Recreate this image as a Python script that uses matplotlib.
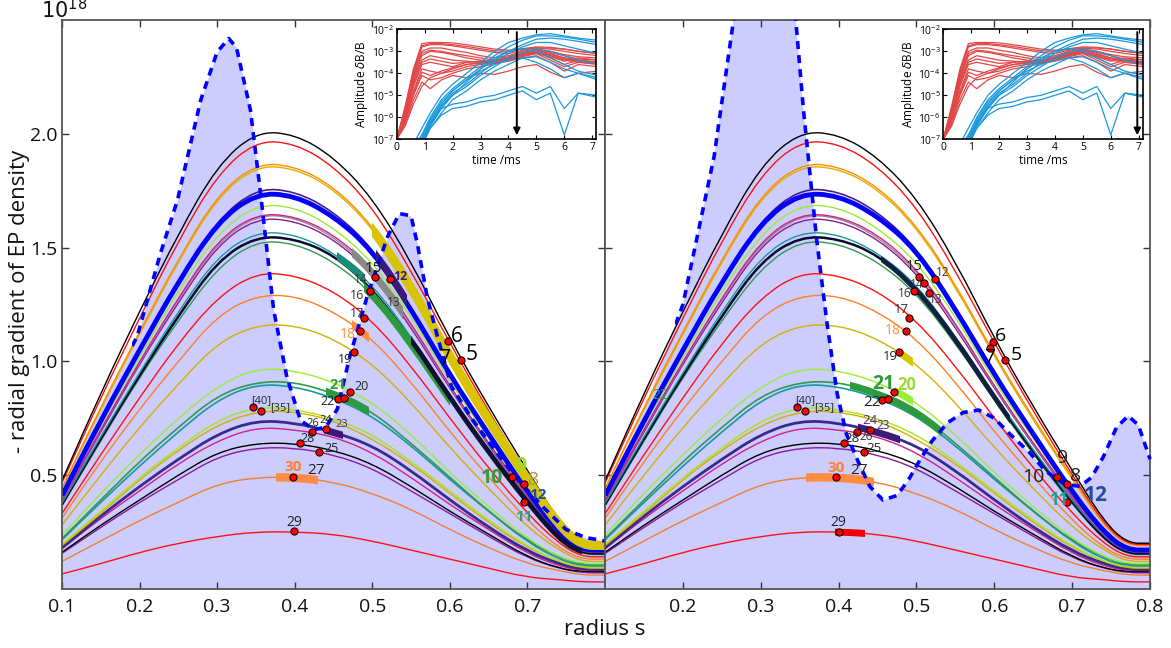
import numpy as np
import matplotlib
matplotlib.use('Agg')
import matplotlib.pyplot as plt
from matplotlib.patches import Rectangle, PathPatch
from matplotlib.path import Path

plt.rcParams['font.family'] = ['Open Sans', 'DejaVu Sans']

# ---------------- data (units of 1e18) ----------------
radius = [0.10, 0.15, 0.20, 0.25, 0.30, 0.35, 0.40, 0.45, 0.50, 0.55, 0.60, 0.65, 0.70, 0.74, 0.77, 0.80]

black_a   = [0.475, 0.86, 1.22, 1.56, 1.86, 2.01, 2.00, 1.90, 1.72, 1.44, 1.10, 0.80, 0.52, 0.30, 0.20, 0.20]
red_a     = [0.465, 0.84, 1.19, 1.53, 1.82, 1.97, 1.96, 1.86, 1.68, 1.40, 1.08, 0.78, 0.50, 0.29, 0.195, 0.195]
orange_a  = [0.44, 0.80, 1.13, 1.45, 1.73, 1.87, 1.86, 1.77, 1.60, 1.34, 1.03, 0.75, 0.49, 0.28, 0.19, 0.19]
gold_a    = [0.44, 0.79, 1.12, 1.44, 1.72, 1.86, 1.85, 1.76, 1.59, 1.33, 1.02, 0.74, 0.48, 0.28, 0.19, 0.19]
indigo_a  = [0.415, 0.75, 1.06, 1.36, 1.62, 1.76, 1.75, 1.66, 1.50, 1.24, 0.95, 0.68, 0.43, 0.25, 0.175, 0.175]
blue_a    = [0.41, 0.74, 1.05, 1.35, 1.61, 1.74, 1.73, 1.64, 1.49, 1.23, 0.94, 0.68, 0.425, 0.25, 0.17, 0.17]
lgreen_a  = [0.40, 0.72, 1.02, 1.31, 1.56, 1.69, 1.68, 1.59, 1.44, 1.20, 0.91, 0.66, 0.415, 0.24, 0.17, 0.17]
magenta_a = [0.39, 0.70, 1.00, 1.28, 1.53, 1.65, 1.64, 1.56, 1.41, 1.17, 0.89, 0.64, 0.405, 0.24, 0.165, 0.165]
gray_a    = [0.388, 0.70, 0.995, 1.275, 1.52, 1.645, 1.635, 1.55, 1.40, 1.165, 0.885, 0.635, 0.40, 0.235, 0.163, 0.163]
purple_a  = [0.385, 0.69, 0.99, 1.26, 1.51, 1.63, 1.62, 1.54, 1.39, 1.15, 0.88, 0.63, 0.395, 0.23, 0.16, 0.16]
teal_a    = [0.375, 0.67, 0.95, 1.22, 1.46, 1.57, 1.56, 1.48, 1.34, 1.11, 0.85, 0.61, 0.385, 0.23, 0.16, 0.16]
black_b   = [0.37, 0.66, 0.94, 1.20, 1.44, 1.55, 1.54, 1.47, 1.32, 1.10, 0.84, 0.60, 0.38, 0.22, 0.155, 0.155]
green_a   = [0.365, 0.65, 0.93, 1.18, 1.41, 1.53, 1.52, 1.44, 1.30, 1.08, 0.83, 0.59, 0.37, 0.22, 0.15, 0.15]
red_b     = [0.33, 0.59, 0.84, 1.08, 1.28, 1.39, 1.38, 1.31, 1.18, 0.98, 0.75, 0.53, 0.33, 0.20, 0.14, 0.14]
orange_b  = [0.31, 0.56, 0.79, 1.00, 1.20, 1.29, 1.29, 1.22, 1.10, 0.91, 0.69, 0.49, 0.30, 0.18, 0.13, 0.13]
gold_b    = [0.28, 0.50, 0.71, 0.90, 1.08, 1.16, 1.16, 1.10, 0.99, 0.82, 0.62, 0.44, 0.27, 0.17, 0.12, 0.12]
lgreen_b  = [0.235, 0.42, 0.59, 0.75, 0.89, 0.97, 0.96, 0.91, 0.82, 0.68, 0.51, 0.36, 0.22, 0.14, 0.11, 0.11]
green_b   = [0.22, 0.39, 0.56, 0.71, 0.85, 0.91, 0.91, 0.86, 0.78, 0.64, 0.49, 0.34, 0.21, 0.14, 0.105, 0.105]
teal_b    = [0.215, 0.38, 0.54, 0.69, 0.83, 0.90, 0.89, 0.84, 0.76, 0.63, 0.48, 0.34, 0.205, 0.13, 0.10, 0.10]
ygreen_a  = [0.195, 0.34, 0.49, 0.62, 0.74, 0.80, 0.79, 0.75, 0.68, 0.56, 0.43, 0.30, 0.185, 0.12, 0.095, 0.095]
gold_c    = [0.19, 0.33, 0.48, 0.61, 0.72, 0.78, 0.78, 0.74, 0.66, 0.55, 0.42, 0.29, 0.18, 0.12, 0.09, 0.09]
indigo_b  = [0.18, 0.32, 0.45, 0.57, 0.68, 0.74, 0.73, 0.69, 0.63, 0.52, 0.39, 0.27, 0.165, 0.11, 0.085, 0.085]
magenta_b = [0.175, 0.31, 0.43, 0.55, 0.65, 0.71, 0.70, 0.67, 0.60, 0.49, 0.37, 0.26, 0.155, 0.10, 0.08, 0.08]
black_c   = [0.16, 0.28, 0.39, 0.50, 0.60, 0.64, 0.64, 0.61, 0.55, 0.45, 0.34, 0.24, 0.14, 0.09, 0.075, 0.075]
purple_b  = [0.155, 0.27, 0.38, 0.48, 0.58, 0.62, 0.62, 0.59, 0.53, 0.43, 0.33, 0.23, 0.135, 0.09, 0.07, 0.07]
orange_c  = [0.12, 0.21, 0.30, 0.38, 0.46, 0.49, 0.49, 0.47, 0.42, 0.35, 0.26, 0.18, 0.11, 0.08, 0.06, 0.06]
red_c     = [0.065, 0.11, 0.16, 0.20, 0.23, 0.25, 0.25, 0.24, 0.21, 0.17, 0.13, 0.09, 0.05, 0.04, 0.03, 0.03]

# EP density gradient (dashed) at the two times
ep_left_s = [0.10, 0.15, 0.197, 0.227, 0.249, 0.279, 0.30, 0.315, 0.325, 0.343, 0.356, 0.373, 0.39, 0.4075,
             0.425, 0.44, 0.455, 0.471, 0.493, 0.52, 0.535, 0.55, 0.558, 0.571, 0.584, 0.602, 0.63, 0.66,
             0.69, 0.72, 0.75, 0.775, 0.80]
ep_left_v = [0.46, 0.80, 1.11, 1.475, 1.71, 2.15, 2.36, 2.42, 2.38, 2.105, 1.74, 1.225, 0.93, 0.74,
             0.70, 0.71, 0.79, 1.02, 1.28, 1.55, 1.65, 1.64, 1.52, 1.28, 1.11, 0.89, 0.74, 0.60,
             0.47, 0.36, 0.26, 0.225, 0.21]
ep_right_s = [0.10, 0.15, 0.20, 0.24, 0.265, 0.29, 0.32, 0.34, 0.355, 0.372, 0.385, 0.398, 0.41, 0.425,
              0.44, 0.457, 0.475, 0.49, 0.505, 0.52, 0.54, 0.56, 0.58, 0.60, 0.62, 0.645, 0.665, 0.69,
              0.71, 0.725, 0.74, 0.757, 0.772, 0.785, 0.80]
ep_right_v = [0.42, 0.78, 1.25, 1.90, 2.50, 2.90, 3.00, 2.70, 2.10, 1.53, 1.17, 0.86, 0.68, 0.56,
              0.45, 0.39, 0.41, 0.48, 0.57, 0.65, 0.73, 0.775, 0.786, 0.75, 0.68, 0.60, 0.52, 0.46,
              0.45, 0.49, 0.58, 0.71, 0.76, 0.72, 0.57]

# inset time traces (log10 of amplitude)
time_ms = [0, 0.3, 0.6, 0.9, 1.2, 1.6, 2.0, 2.5, 3.0, 3.5, 4.0, 4.5, 5.0, 5.5, 6.0, 6.5, 7.2]
red_modes = [
    [-7, -5.5, -3.8, -2.65, -2.6, -2.6, -2.62, -2.7, -2.8, -2.9, -2.95, -2.9, -2.85, -2.85, -2.9, -3.0, -3.1],
    [-7, -5.65, -3.9, -2.75, -2.65, -2.65, -2.7, -2.78, -2.88, -2.98, -3.0, -2.88, -2.8, -2.82, -2.9, -3.0, -3.1],
    [-7, -5.6, -4.0, -2.8, -2.7, -2.7, -2.75, -2.85, -2.95, -3.05, -3.1, -2.95, -2.85, -2.9, -3.0, -3.1, -3.2],
    [-7, -5.7, -4.1, -3.0, -2.85, -2.85, -2.95, -3.05, -3.2, -3.3, -3.2, -3.0, -2.9, -3.0, -3.15, -3.25, -3.3],
    [-7, -5.75, -4.2, -3.1, -2.95, -3.0, -3.1, -3.2, -3.3, -3.4, -3.25, -3.05, -2.92, -3.05, -3.2, -3.35, -3.4],
    [-7, -5.8, -4.3, -3.2, -3.0, -3.05, -3.15, -3.3, -3.4, -3.5, -3.3, -3.1, -2.95, -3.1, -3.3, -3.4, -3.5],
    [-7, -5.9, -4.4, -3.4, -3.2, -3.3, -3.4, -3.45, -3.5, -3.55, -3.35, -3.2, -3.0, -3.2, -3.4, -3.5, -3.6],
    [-7, -5.95, -4.5, -3.5, -3.35, -3.45, -3.55, -3.5, -3.45, -3.45, -3.3, -3.1, -3.0, -3.15, -3.3, -3.4, -3.5],
    [-7, -6.0, -4.6, -3.6, -3.5, -3.6, -3.7, -3.5, -3.45, -3.4, -3.3, -3.15, -3.1, -3.25, -3.45, -3.3, -3.4],
    [-7, -6.1, -4.8, -3.8, -3.9, -4.0, -3.9, -3.7, -3.6, -3.5, -3.4, -3.2, -3.05, -3.3, -3.6, -3.4, -3.5],
    [-7, -6.15, -4.9, -3.95, -4.1, -3.9, -3.75, -3.6, -3.55, -3.45, -3.35, -3.25, -3.1, -3.4, -3.7, -3.5, -3.55],
    [-7, -6.2, -5.0, -4.1, -4.3, -4.2, -4.0, -3.8, -3.7, -3.55, -3.45, -3.3, -3.2, -3.5, -3.9, -3.6, -3.7],
    [-7, -6.3, -5.2, -4.4, -4.7, -4.3, -4.1, -4.2, -4.0, -4.05, -3.9, -3.7, -3.6, -3.95, -4.2, -4.0, -3.9],
    [-7, -6.4, -5.4, -4.6, -4.2, -4.0, -3.8, -3.6, -3.5, -3.5, -3.3, -3.15, -3.0, -3.2, -3.35, -3.45, -3.55],
]
blue_modes = [
    [-7.5, -7.5, -7.2, -6.5, -5.8, -5.0, -4.5, -4.0, -3.5, -3.0, -2.6, -2.4, -2.25, -2.2, -2.3, -2.4, -2.5],
    [-7.5, -7.5, -7.3, -6.8, -6.0, -5.2, -4.7, -4.2, -3.7, -3.2, -2.8, -2.5, -2.3, -2.3, -2.35, -2.45, -2.6],
    [-7.5, -7.5, -7.4, -6.9, -6.1, -5.3, -4.8, -4.3, -3.8, -3.4, -3.0, -2.7, -2.45, -2.4, -2.45, -2.55, -2.7],
    [-7.5, -7.5, -7.4, -7.0, -6.3, -5.5, -4.9, -4.5, -4.0, -3.5, -3.1, -2.8, -2.6, -2.6, -2.75, -2.9, -3.1],
    [-7.5, -7.5, -7.5, -7.1, -6.4, -5.6, -5.0, -4.4, -3.8, -3.3, -3.0, -2.9, -3.0, -3.3, -3.6, -3.9, -4.1],
    [-7.5, -7.5, -7.5, -7.1, -6.3, -5.5, -5.0, -4.6, -4.1, -3.7, -3.3, -3.05, -2.9, -3.0, -3.2, -3.4, -3.6],
    [-7.5, -7.5, -7.5, -7.2, -6.5, -5.8, -5.2, -4.8, -4.3, -3.9, -3.6, -3.3, -3.25, -3.5, -3.8, -4.0, -4.2],
    [-7.5, -7.5, -7.5, -7.0, -6.2, -5.4, -4.8, -4.3, -3.9, -3.6, -3.4, -3.3, -3.5, -3.8, -4.2, -4.0, -4.3],
    [-7.5, -7.5, -7.5, -7.2, -6.3, -5.6, -5.4, -5.3, -5.1, -5.0, -4.8, -4.6, -4.9, -4.6, -5.6, -4.9, -5.0],
    [-7.5, -7.5, -7.5, -7.3, -6.5, -5.9, -5.6, -5.5, -5.3, -5.2, -5.0, -4.8, -5.2, -4.9, -6.8, -4.9, -5.1],
]
arrow_time = [4.3, 6.95]

x_ticks_left = [0.1, 0.2, 0.3, 0.4, 0.5, 0.6, 0.7]
x_ticks_right = [0.2, 0.3, 0.4, 0.5, 0.6, 0.7, 0.8]
y_ticks = [0.5, 1.0, 1.5, 2.0]

# ---------------- styles ----------------
curves = [
    (red_c, '#ff1010', 1.0), (orange_c, '#f08030', 1.0), (purple_b, '#8a1a9a', 1.0), (black_c, '#000000', 1.0),
    (magenta_b, '#d0208a', 1.0), (indigo_b, '#3a2a90', 2.0), (gold_c, '#d4b000', 1.0), (ygreen_a, '#a6e61a', 1.0),
    (teal_b, '#169a9a', 1.2), (green_b, '#2e9a4e', 1.2), (lgreen_b, '#99ee33', 1.0), (gold_b, '#d4b000', 1.0),
    (orange_b, '#ff7f24', 1.0), (red_b, '#ff1010', 1.0), (green_a, '#2e9a4e', 1.0), (black_b, '#0a0a30', 1.8),
    (teal_a, '#169a9a', 1.0), (purple_a, '#8a1a9a', 1.0), (gray_a, '#909090', 1.0), (magenta_a, '#d0208a', 1.0),
    (lgreen_a, '#99ee33', 1.0), (indigo_a, '#4b1a8a', 1.2), (blue_a, '#0000ff', 3.5), (gold_a, '#e0b000', 1.0),
    (orange_a, '#ff8c00', 1.0), (red_a, '#ff1010', 1.0), (black_a, '#000000', 1.0),
]

hl_left = [
    (gold_a, 0.50, 0.80, '#d8c400', 6.5), (indigo_a, 0.505, 0.545, '#3d1a78', 5), (gray_a, 0.474, 0.54, '#888888', 5),
    (teal_a, 0.455, 0.49, '#1a8a7a', 5), (green_a, 0.49, 0.60, '#2e9a3e', 5), (black_b, 0.55, 0.77, '#101030', 3.5),
    (orange_b, 0.474, 0.496, '#ff8c40', 5), (green_b, 0.44, 0.496, '#2e9a3e', 5), (indigo_b, 0.438, 0.462, '#3d1a78', 5),
    (orange_c, 0.376, 0.43, '#ff8c40', 6),
]
hl_right = [
    (gold_b, 0.476, 0.495, '#d8c400', 5), (lgreen_b, 0.472, 0.496, '#99ee33', 5), (green_b, 0.415, 0.533, '#2e9a3e', 5),
    (indigo_b, 0.425, 0.479, '#3d1a78', 5), (orange_c, 0.3585, 0.446, '#ff8c40', 6), (red_c, 0.395, 0.434, '#ee0000', 5),
    (black_b, 0.455, 0.62, '#102040', 3.5),
]

dots_left_s = [0.503, 0.523, 0.497, 0.490, 0.484, 0.476, 0.598, 0.614, 0.471, 0.456, 0.464, 0.44, 0.423, 0.4075,
               0.432, 0.398, 0.399, 0.346, 0.357, 0.68, 0.696, 0.696]
dots_left_v = [1.37, 1.36, 1.31, 1.19, 1.133, 1.04, 1.09, 1.006, 0.867, 0.833, 0.837, 0.702, 0.69, 0.639,
               0.60, 0.493, 0.253, 0.80, 0.783, 0.49, 0.46, 0.38]
dots_right_s = [0.503, 0.51, 0.524, 0.516, 0.497, 0.49, 0.486, 0.477, 0.471, 0.456, 0.464, 0.44, 0.423, 0.4075,
                0.432, 0.346, 0.357, 0.598, 0.594, 0.614, 0.3965, 0.40, 0.68, 0.693, 0.693]
dots_right_v = [1.37, 1.346, 1.36, 1.30, 1.31, 1.19, 1.134, 1.04, 0.867, 0.83, 0.835, 0.70, 0.69, 0.64,
                0.60, 0.80, 0.783, 1.087, 1.06, 1.006, 0.493, 0.25, 0.493, 0.46, 0.383]

lab_left = [
    ("15", 0.501, 1.41, '#111111', 11, 'normal'), ("14", 0.485, 1.36, '#333333', 8.5, 'normal'),
    ("12", 0.537, 1.375, '#3d1a78', 9, 'bold'), ("16", 0.480, 1.29, '#333333', 9, 'normal'),
    ("13", 0.527, 1.258, '#333333', 8.5, 'normal'), ("17", 0.481, 1.21, '#333333', 9, 'normal'),
    ("18", 0.468, 1.12, '#ff8c40', 10, 'normal'), ("19", 0.465, 1.01, '#222222', 9, 'normal'),
    ("6", 0.609, 1.11, '#000000', 15, 'normal'), ("5", 0.628, 1.03, '#000000', 15, 'normal'),
    ("7", 0.594, 1.01, '#000000', 15, 'normal'), ("20", 0.486, 0.89, '#222222', 9, 'normal'),
    ("21", 0.455, 0.896, '#2e9a3e', 10.5, 'bold'), ("22", 0.443, 0.825, '#222222', 9, 'normal'),
    ("24", 0.44, 0.738, '#222222', 8, 'normal'), ("26", 0.424, 0.725, '#222222', 8, 'normal'),
    ("23", 0.461, 0.722, '#4b2a80', 8, 'normal'), ("28", 0.416, 0.66, '#222222', 9, 'normal'),
    ("25", 0.447, 0.617, '#222222', 9, 'normal'), ("27", 0.427, 0.52, '#222222', 11, 'normal'),
    ("30", 0.398, 0.537, '#ff8030', 11, 'bold'), ("29", 0.40, 0.292, '#222222', 10, 'normal'),
    ("[40]", 0.357, 0.828, '#222222', 8, 'normal'), ("[35]", 0.381, 0.797, '#222222', 8, 'normal'),
    ("10", 0.654, 0.485, '#3a9a3a', 14, 'bold'), ("9", 0.692, 0.54, '#99dd33', 14, 'bold'),
    ("8", 0.708, 0.48, '#a89a40', 14, 'normal'), ("12", 0.714, 0.41, '#1f4e9a', 11, 'bold'),
    ("11", 0.695, 0.316, '#2a9d8f', 11, 'bold'),
]
lab_right = [
    ("15", 0.497, 1.415, '#222222', 10.5, 'normal'), ("14", 0.50, 1.34, '#333333', 8.5, 'normal'),
    ("12", 0.534, 1.39, '#333333', 8.5, 'normal'), ("13", 0.525, 1.27, '#333333', 8.5, 'normal'),
    ("16", 0.485, 1.30, '#333333', 8.5, 'normal'), ("17", 0.481, 1.23, '#333333', 9.5, 'normal'),
    ("18", 0.469, 1.134, '#ff9040', 10, 'normal'), ("19", 0.466, 1.02, '#222222', 9.5, 'normal'),
    ("6", 0.608, 1.11, '#000000', 14, 'normal'), ("7", 0.594, 1.02, '#000000', 14, 'normal'),
    ("5", 0.628, 1.03, '#000000', 14, 'normal'), ("21", 0.457, 0.902, '#2e9a3e', 14, 'bold'),
    ("20", 0.487, 0.895, '#99dd33', 12, 'bold'), ("22", 0.443, 0.82, '#222222', 11, 'normal'),
    ("24", 0.44, 0.74, '#4b2a80', 9.5, 'normal'), ("26", 0.436, 0.67, '#333333', 8.5, 'normal'),
    ("23", 0.457, 0.72, '#4b2a80', 8.5, 'normal'), ("28", 0.417, 0.66, '#222222', 9.5, 'normal'),
    ("25", 0.446, 0.617, '#222222', 9.5, 'normal'), ("[40]", 0.357, 0.828, '#222222', 8, 'normal'),
    ("[35]", 0.381, 0.797, '#222222', 8, 'normal'), ("30", 0.397, 0.53, '#ff8030', 11, 'bold'),
    ("27", 0.4265, 0.52, '#222222', 11, 'normal'), ("29", 0.40, 0.29, '#222222', 10, 'normal'),
    ("10", 0.65, 0.49, '#222222', 14, 'normal'), ("9", 0.687, 0.575, '#222222', 14, 'normal'),
    ("8", 0.704, 0.495, '#222222', 14, 'normal'), ("12", 0.73, 0.41, '#1f4e9a', 15, 'bold'),
    ("11", 0.683, 0.39, '#2a9d8f', 12, 'bold'), ("22", 0.171, 0.85, '#3a9a3a', 10, 'normal'),
]

# ---------------- figure ----------------
fig = plt.figure(figsize=(11.71, 6.48), dpi=100)
axL = fig.add_axes([0.0529, 0.0915, 0.4637, 0.8772])
axR = fig.add_axes([0.5167, 0.0915, 0.4654, 0.8772])


def smooth_curve(ax, xs, ys, color, lw, z):
    """Quadratic-Bezier rendering through the sampled profile (drawn in data coordinates)."""
    xs = np.asarray(xs, float)
    ys = np.asarray(ys, float)
    mids = np.column_stack([(xs[:-1] + xs[1:]) / 2, (ys[:-1] + ys[1:]) / 2])
    verts = [(xs[0], ys[0]), tuple(mids[0])]
    codes = [Path.MOVETO, Path.LINETO]
    for i in range(1, len(xs) - 1):
        verts += [(xs[i], ys[i]), tuple(mids[i])]
        codes += [Path.CURVE3, Path.CURVE3]
    verts.append((xs[-1], ys[-1]))
    codes.append(Path.LINETO)
    patch = PathPatch(Path(verts, codes), fill=False, edgecolor=color, lw=lw, capstyle='butt',
                      joinstyle='round', zorder=z)
    ax.add_patch(patch)
    return patch


def draw_panel(ax, ep_s, ep_v, highlights, ds, dv, labels, xt, dash_from):
    ax.fill_between(ep_s, 0, ep_v, color='#ccccff', lw=0, zorder=1)
    for vals, col, lw in curves:
        smooth_curve(ax, radius, vals, col, lw, 2)
    for vals, s0, s1, col, lw in highlights:
        p = smooth_curve(ax, radius, vals, col, lw, 3)
        p.set_clip_path(Rectangle((s0, -1), s1 - s0, 5, transform=ax.transData))
    ln, = ax.plot(ep_s, ep_v, color='#0000ff', lw=2.6, dashes=(2.2, 1.7), zorder=4)
    ln.set_clip_path(Rectangle((dash_from, 0), 1, 2.5, transform=ax.transData))
    ax.plot(ds, dv, 'o', ms=5.2, mfc='#ff0000', mec='#000000', mew=0.7, zorder=6)
    for t, x, y, c, fs, fw in labels:
        ax.text(x, y, t, color=c, fontsize=fs, fontweight=fw, ha='center', va='center', zorder=7)
    ax.set_xlim(0.1, 0.8)
    ax.set_ylim(0, 2.5)
    ax.set_xticks(xt)
    ax.set_xticklabels([f"{v:.1f}" for v in xt])
    ax.set_yticks(y_ticks)
    ax.tick_params(direction='in', top=True, right=True, labelsize=14, length=5, width=1, colors='#333333',
                   labelcolor='#111111')
    ax.tick_params(axis='x', pad=7)
    ax.tick_params(axis='y', pad=3)
    for sp in ax.spines.values():
        sp.set_color('#555555')
        sp.set_linewidth(1.3)


draw_panel(axL, ep_left_s, ep_left_v, hl_left, dots_left_s, dots_left_v, lab_left, x_ticks_left, 0.19)
draw_panel(axR, ep_right_s, ep_right_v, hl_right, dots_right_s, dots_right_v, lab_right, x_ticks_right, 0.19)
axL.set_yticklabels([f"{v:.1f}" for v in y_ticks])
axR.set_yticklabels([])

fig.text(0.055, 0.983, r'$10^{18}$', fontsize=15, ha='center', va='center', color='#111111')
fig.text(0.5165, 0.028, 'radius s', fontsize=16, ha='center', va='center', color='#111111')
fig.text(0.017, 0.535, '- radial gradient of EP density', fontsize=16, rotation=90,
         ha='center', va='center', color='#111111')

# ---------------- insets ----------------
for left, t_arrow in zip([0.3388, 0.8055], arrow_time):
    ai = fig.add_axes([left, 0.785, 0.1705, 0.1698])
    ai.set_facecolor('white')
    for m in red_modes:
        ai.plot(time_ms, 10.0 ** np.array(m), color='#e04848', lw=0.9)
    for m in blue_modes:
        ai.plot(time_ms, 10.0 ** np.array(m), color='#1a98dc', lw=0.9)
    ai.set_yscale('log')
    ai.set_xlim(0, 7.15)
    ai.set_ylim(1e-7, 1e-2)
    ai.set_xticks(range(8))
    ai.set_yticks([1e-7, 1e-6, 1e-5, 1e-4, 1e-3, 1e-2])
    ai.minorticks_off()
    ai.tick_params(direction='in', top=True, right=True, labelsize=7.5, length=3, pad=2)
    ai.set_xlabel('time /ms', fontsize=8.5, labelpad=1)
    ai.set_ylabel(r'Amplitude $\delta$B/B', fontsize=8.5, labelpad=1)
    for sp in ai.spines.values():
        sp.set_linewidth(1.2)
    ai.annotate('', xy=(t_arrow, 1.15e-7), xytext=(t_arrow, 1e-2),
                arrowprops=dict(arrowstyle='-|>', color='k', lw=1.4, mutation_scale=10))

fig.savefig('out.png', dpi=100)
